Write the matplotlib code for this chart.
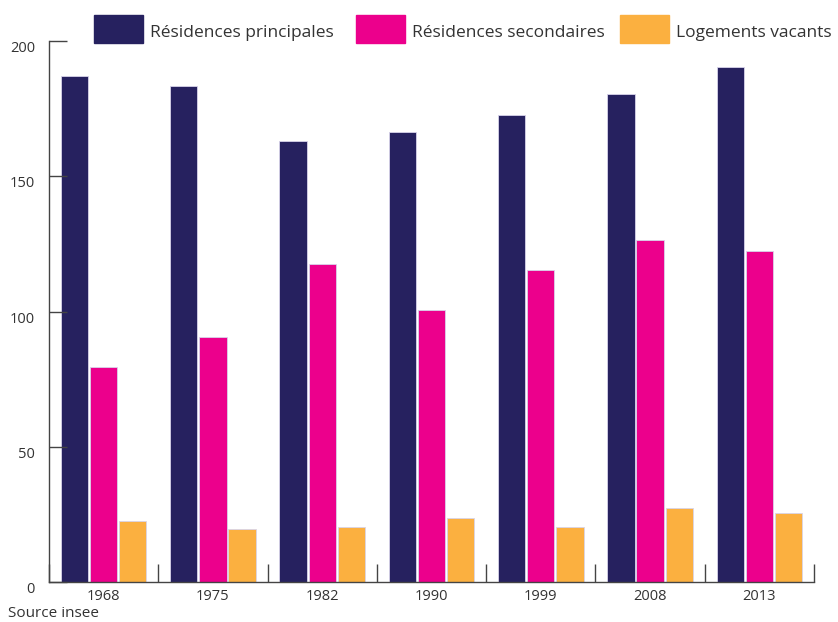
import numpy as np
import matplotlib
matplotlib.use("Agg")
import matplotlib.pyplot as plt
import matplotlib.transforms as mtransforms
from matplotlib.patches import Rectangle

annees = ["1968", "1975", "1982", "1990", "1999", "2008", "2013"]
principales = [187, 183.5, 163, 166.5, 172.5, 180.5, 190.5]
secondaires = [79.5, 90.5, 117.5, 100.5, 115.5, 126.5, 122.5]
vacants = [22.5, 19.5, 20.5, 23.5, 20.5, 27.5, 25.5]

series = ["Résidences principales", "Résidences secondaires", "Logements vacants"]
couleurs = ["#26215f", "#ec008c", "#fbb040"]

plt.rcParams["font.family"] = ["Open Sans", "DejaVu Sans"]

W, H = 838, 622
fig = plt.figure(figsize=(W / 100, H / 100), dpi=100)
ax = fig.add_axes([49 / W, 40 / H, 765 / W, 541 / H])

x = np.arange(len(annees))
w = 0.25
for i, (vals, c, lab) in enumerate(zip([principales, secondaires, vacants], couleurs, series)):
    ax.bar(x + (i - 1) * 0.267, vals, width=w, color=c, edgecolor="#d8d4ea",
           linewidth=0.6, label=lab)

ax.set_xlim(-0.5, len(annees) - 0.5)
ax.set_ylim(0, 200)
ax.set_yticks([0, 50, 100, 150, 200])
ax.set_xticks(x)
ax.set_xticklabels(annees)
ax.set_xticks(np.arange(-0.5, len(annees)), minor=True)

for s in ["top", "right"]:
    ax.spines[s].set_visible(False)
for s in ["left", "bottom"]:
    ax.spines[s].set_color("#444444")
    ax.spines[s].set_linewidth(1.0)

ax.tick_params(axis="x", which="major", length=0, pad=5, labelsize=10.5, labelcolor="#333333")
ax.tick_params(axis="x", which="minor", direction="in", length=13, color="#444444", width=1.0)
ax.tick_params(axis="y", direction="in", length=13, color="#444444", width=1.0,
               pad=10, labelsize=10.5, labelcolor="#333333")
# etiquettes y un peu plus bas que les graduations
decal = mtransforms.ScaledTranslation(0, -4 / 72, fig.dpi_scale_trans)
for t in ax.get_yticklabels():
    t.set_transform(t.get_transform() + decal)

# legende placee a la main
patch_x = [94, 356, 620]
for px, c, lab in zip(patch_x, couleurs, series):
    fig.patches.append(Rectangle((px / W, 1 - 43 / H), 49 / W, 28 / H,
                                 transform=fig.transFigure, color=c))
    fig.text((px + 56) / W, 1 - 33 / H, lab, fontsize=12.5, color="#333333", va="center")

fig.text(8 / W, 1 / H, "Source insee", fontsize=11, color="#333333", va="bottom")

plt.savefig("out.png", dpi=100)
plt.close()
